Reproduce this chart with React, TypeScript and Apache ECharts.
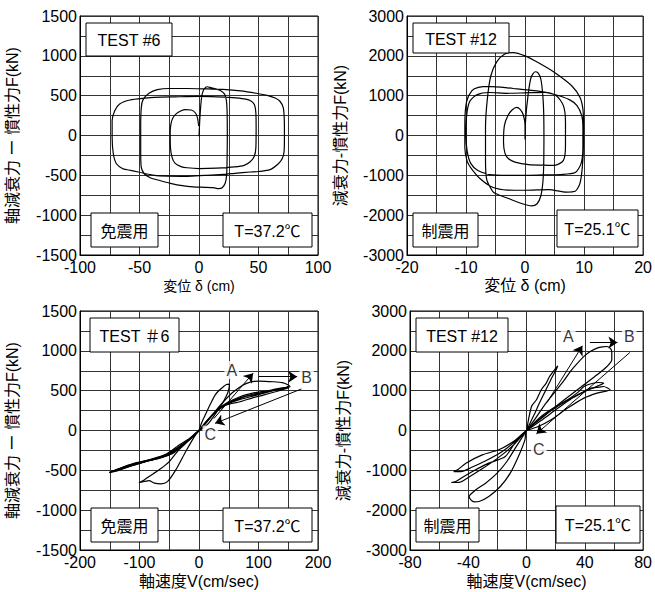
import React, { useEffect, useRef } from "react";
import * as echarts from "echarts";

const FONT = "Arial, 'Liberation Sans', 'Noto Sans CJK JP', sans-serif";

// ---------- Panel 1: TEST #6, displacement (cm) vs force (kN) ----------
const test6Disp: number[][] = [
  [0, -10], [0.5, 150], [1.2, 320], [2.2, 480], [3.5, 560], [5.5, 605], [7, 612], [10, 600], [14, 585], [18, 565],
  [21.5, 520], [23, 440], [23.6, 300], [23.8, 0], [23.6, -300], [23.2, -500], [22, -600], [19.5, -655], [16.5, -667],
  [12, -655], [5, -650], [-5, -645], [-14, -630], [-24, -600], [-33, -565], [-41, -530], [-46, -480], [-48.5, -400],
  [-49, -200], [-49, 100], [-48.5, 350], [-47, 450], [-42, 530], [-35, 575], [-25, 590], [-10, 590], [5, 585], [20, 578],
  [35, 560], [48, 530], [58, 500], [64, 470], [68, 430], [70.8, 350], [71.7, 190], [71.8, 0], [71.5, -200], [70, -290],
  [66.7, -354], [59.7, -429], [50, -452], [43, -458], [30, -475], [21, -488], [5, -500], [-10, -512], [-25, -510],
  [-37.5, -500], [-51, -458], [-60, -430], [-64, -417], [-69.4, -354], [-72, -229], [-73, -20], [-73, 187], [-70.8, 312],
  [-66.7, 396], [-58, 446], [-45, 470], [-37.5, 479], [-20, 485], [0, 490], [15, 485], [28, 475], [38, 460], [43, 440],
  [46.5, 390], [47.8, 280], [48, 100], [47.8, -150], [46.5, -260], [43, -330], [38, -375], [30, -395], [15, -410],
  [0, -415], [-10, -405], [-15, -390], [-20, -350], [-22.5, -280], [-24, -150], [-24.2, 50], [-23.5, 150], [-22, 220],
  [-19, 275], [-15, 310], [-11.7, 325], [-6.5, 320], [-2.8, 279], [-1.1, 208], [-0.3, 120],
];

// ---------- Panel 2: TEST #12, displacement (cm) vs force (kN) ----------
const test12Disp: number[][] = [
  [0, -100], [0, 250], [-0.3, 520], [-0.8, 650], [-1.4, 705], [-2.2, 640], [-2.9, 500], [-3.5, 250], [-3.65, -170],
  [-3.4, -450], [-2.8, -583], [-1.7, -667], [0.6, -733], [3, -745], [5, -750], [6.5, -625], [6.85, -250], [6.85, 330],
  [6.5, 750], [5.3, 1000], [3.4, 1083], [0, 1070], [-3, 1060], [-6, 1080], [-8.2, 1020], [-9.4, 850], [-9.9, 500],
  [-10, 0], [-9.8, -400], [-9.2, -700], [-8, -880], [-6, -980], [-3, -1000], [0, -1000], [3, -990], [6, -980],
  [8.5, -930], [9.5, -700], [9.8, -300], [9.8, 200], [9.6, 500], [8.8, 750], [7.5, 900], [5, 1030], [2, 1120],
  [-2, 1180], [-6.2, 1233], [-7.9, 1208], [-9, 1125], [-9.9, 850], [-10.2, 300], [-10.2, -300], [-9.8, -650],
  [-9, -850], [-7.5, -1100], [-5.5, -1300], [-3, -1370], [0, -1375], [4, -1360], [7, -1420], [8.5, -1400],
  [9.3, -1200], [9.7, -800], [9.9, -200], [9.9, 300], [9.8, 667], [9.3, 958], [7.9, 1250], [5, 1583], [2.2, 1833],
  [0, 2000], [-2, 2083], [-3.5, 2040], [-4.8, 1850], [-5.8, 1500], [-6.4, 900], [-6.7, 200], [-6.7, -600],
  [-6.5, -1100], [-5.5, -1400], [-5, -1458], [-2.8, -1583], [-0.6, -1708], [1.1, -1767], [2, -1720], [2.7, -1500],
  [3.1, -1000], [3.2, 0], [3.1, 800], [2.7, 1400], [2.2, 1570], [1.7, 1600], [1, 1450], [0.5, 1000], [0.1, 400], [0, -100],
];

// ---------- Panel 3: TEST #6, velocity (cm/sec) vs force (kN) ----------
const test6VelLoopA: number[][] = [
  [0, 0], [2, 48], [7, 140], [13, 236], [20, 345], [27, 445], [34, 505], [41, 550], [46, 578], [50, 582], [51, 565],
  [49, 487], [45, 420], [41, 361], [30, 236], [16, 90], [5, 20], [0, 0], [-8, -80], [-22, -260], [-39, -494],
  [-53, -641], [-64, -670], [-75, -660], [-84, -630], [-92, -640], [-101, -655], [-92, -620], [-84, -578], [-67, -494],
  [-50, -390], [-34, -243], [-20, -140], [-8, -50], [0, 0],
];
const test6VelLoopB: number[][] = [
  [0, 0], [10, 80], [25, 220], [41, 361], [58, 487], [80, 592], [102, 621], [125, 612], [140, 600], [150, 571],
  [153, 548], [135, 528], [112, 495], [97, 479], [80, 450], [69, 424], [50, 360], [35, 285], [20, 170], [8, 60], [0, 0],
  [-8, -50], [-20, -120], [-34, -185], [-48, -264], [-62, -327], [-84, -369], [-112, -419], [-135, -480], [-151, -528],
  [-135, -500], [-112, -438], [-84, -378], [-62, -338], [-45, -290], [-30, -210], [-15, -110], [0, 0],
];
const test6VelBundle1: number[][] = [
  [0, 0], [12, 100], [28, 230], [45, 320], [69, 361], [90, 410], [108, 445], [130, 490], [150, 535], [135, 520],
  [110, 480], [90, 455], [69, 410], [50, 350], [30, 250], [12, 110], [0, 0], [-12, -90], [-30, -190], [-50, -290],
  [-75, -355], [-110, -425], [-148, -520], [-120, -455], [-90, -390], [-65, -345], [-45, -280], [-25, -170], [-10, -70], [0, 0],
];
const test6VelBundle2: number[][] = [
  [0, 0], [15, 140], [30, 245], [50, 340], [69, 390], [95, 440], [120, 490], [145, 540], [150, 548], [130, 515],
  [105, 470], [80, 430], [60, 380], [40, 300], [20, 180], [5, 40], [0, 0], [-15, -100], [-35, -210], [-55, -300],
  [-85, -370], [-120, -440], [-150, -525], [-125, -470], [-95, -400], [-70, -350], [-50, -300], [-30, -200], [-12, -80], [0, 0],
];
const arrows6: number[][][] = [
  [[25, 150], [91, 720]],
  [[100, 675], [165, 675]],
  [[172, 521], [27, 90]],
];
const labels6 = [
  { name: "A", value: [55, 759] },
  { name: "B", value: [181, 663] },
  { name: "C", value: [19, -52] },
];

// ---------- Panel 4: TEST #12, velocity (cm/sec) vs force (kN) ----------
const test12VelBig: number[][] = [
  [0, 0], [6, 300], [12, 620], [18, 900], [26, 1273], [30, 1480], [35, 1692], [40, 1880], [44, 1990], [48.4, 2068],
  [52, 2100], [55.2, 2109], [57.5, 2060], [58.5, 1976], [58.5, 1775], [55.2, 1607], [48.4, 1398], [39.4, 1147],
  [30.4, 896], [20, 600], [10, 300], [0, 0], [-1.1, -234], [-5.6, -653], [-11.2, -1071], [-18, -1406], [-25.9, -1657],
  [-32.6, -1782], [-36, -1790], [-38.2, -1740], [-39.4, -1657], [-34.8, -1489], [-28.1, -1322], [-20.2, -1071],
  [-13.5, -778], [-7, -400], [0, 0],
];
const test12VelA: number[][] = [
  [0, 0], [3.4, 603], [6.8, 771], [10.1, 1022], [13.5, 1190], [15.8, 1356], [19.2, 1524], [21.4, 1624], [20.5, 1540],
  [17, 1300], [13, 1000], [9, 700], [5, 380], [0, 0],
];
const test12VelR1: number[][] = [
  [0, 0], [10, 350], [20, 600], [28.2, 771], [35, 950], [39.4, 1105], [45, 1180], [49.5, 1205], [52.9, 1189],
  [49, 1120], [44, 1040], [38, 940], [30, 780], [20, 520], [10, 250], [0, 0],
];
const test12VelR2: number[][] = [
  [0, 0], [12, 380], [22, 620], [32.7, 854], [40, 990], [43.9, 1064], [50, 1090], [52.9, 1105], [57.4, 1022],
  [48.4, 938], [39.4, 813], [28.2, 562], [16.9, 268], [8, 100], [0, 0],
];
const test12VelL1: number[][] = [
  [0, 0], [-6, -200], [-14.6, -653], [-25.9, -820], [-37.1, -1029], [-45, -1200], [-49, -1290], [-51.7, -1305],
  [-46, -1300], [-40, -1180], [-30, -950], [-20, -700], [-10, -400], [0, 0],
];
const test12VelL2: number[][] = [
  [0, 0], [-8, -250], [-19.1, -485], [-30.4, -611], [-41.6, -820], [-47, -980], [-50, -1030], [-45, -1030],
  [-38, -930], [-28, -760], [-18, -560], [-8, -280], [0, 0],
];
const arrows12: number[][][] = [
  [[14, 700], [38.3, 2126]],
  [[43.5, 2210], [62.4, 2210]],
  [[70.9, 1958], [6.8, -83]],
];
const labels12 = [
  { name: "A", value: [28.6, 2370] },
  { name: "B", value: [70.5, 2370] },
  { name: "C", value: [8.4, -467] },
];

// ---------- Axis settings ----------
const xRanges = [
  { min: -100, max: 100, interval: 25, step: 50 },
  { min: -20, max: 20, interval: 5, step: 10 },
  { min: -200, max: 200, interval: 50, step: 100 },
  { min: -80, max: 80, interval: 20, step: 40 },
];
const yRanges = [
  { min: -1500, max: 1500, interval: 250, step: 500 },
  { min: -3000, max: 3000, interval: 500, step: 1000 },
  { min: -1500, max: 1500, interval: 250, step: 500 },
  { min: -3000, max: 3000, interval: 500, step: 1000 },
];
const xNames = ["変位 δ (cm)", "変位 δ (cm)", "軸速度V(cm/sec)", "軸速度V(cm/sec)"];
const yNames = ["軸減衰力 ー 慣性力F(kN)", "減衰力-慣性力F(kN)", "軸減衰力 ー 慣性力F(kN)", "減衰力-慣性力F(kN)"];
const boxTexts = [
  ["TEST #6", "免震用", "T=37.2℃"],
  ["TEST #12", "制震用", "T=25.1℃"],
  ["TEST ＃6", "免震用", "T=37.2℃"],
  ["TEST #12", "制震用", "T=25.1℃"],
];

export default function App() {
  const ref = useRef<HTMLDivElement>(null);
  useEffect(() => {
    document.body.style.margin = "0";
    if (!ref.current) return;
    const chart = echarts.init(ref.current, undefined, { renderer: "svg" });

    const grids = [
      { left: 80, top: 16, width: 238, height: 239 },
      { left: 407, top: 16, width: 239, height: 239 },
      { left: 80, top: 311, width: 238, height: 239 },
      { left: 410, top: 311, width: 237, height: 239 },
    ];
    const xNameSize = [14, 16, 16, 16];
    const xNameGap = [24, 22, 23, 23];

    const xAxis = xRanges.map((r, i) => ({
      type: "value",
      gridIndex: i,
      min: r.min,
      max: r.max,
      interval: r.interval,
      name: xNames[i],
      nameLocation: "middle",
      nameGap: xNameGap[i],
      nameTextStyle: { fontSize: xNameSize[i], fontFamily: FONT, color: "#000" },
      axisLine: { show: true, onZero: false, lineStyle: { color: "#000", width: 1 } },
      axisTick: { show: false },
      axisLabel: {
        fontSize: 16,
        fontFamily: FONT,
        color: "#000",
        margin: 4,
        formatter: (v: number) => (v % r.step === 0 ? String(v) : ""),
      },
      splitLine: { show: true, lineStyle: { color: "#333", width: 1 } },
    }));
    const yAxis = yRanges.map((r, i) => ({
      type: "value",
      gridIndex: i,
      min: r.min,
      max: r.max,
      interval: r.interval,
      name: yNames[i],
      nameLocation: "middle",
      nameGap: i % 2 === 0 ? 60 : 59,
      nameTextStyle: { fontSize: 16, fontFamily: FONT, color: "#000" },
      axisLine: { show: true, onZero: false, lineStyle: { color: "#000", width: 1 } },
      axisTick: { show: false },
      axisLabel: {
        fontSize: 16,
        fontFamily: FONT,
        color: "#000",
        margin: 3,
        formatter: (v: number) => (v % r.step === 0 ? String(v) : ""),
      },
      splitLine: { show: true, lineStyle: { color: "#333", width: 1 } },
    }));

    const curve = (data: number[][], idx: number) => ({
      type: "line",
      xAxisIndex: idx,
      yAxisIndex: idx,
      data,
      showSymbol: false,
      smooth: 0.25,
      lineStyle: { color: "#000", width: 1.2 },
      z: 3,
    });
    const arrowSeries = (arr: number[][][], idx: number) => ({
      type: "lines",
      coordinateSystem: "cartesian2d",
      xAxisIndex: idx,
      yAxisIndex: idx,
      symbol: ["none", "arrow"],
      symbolSize: 9,
      lineStyle: { color: "#000", width: 1, opacity: 1 },
      data: arr.map((c) => ({ coords: c })),
      z: 4,
    });
    const labelSeries = (lbls: { name: string; value: number[] }[], idx: number) => ({
      type: "scatter",
      xAxisIndex: idx,
      yAxisIndex: idx,
      symbolSize: 1,
      itemStyle: { color: "rgba(0,0,0,0)" },
      data: lbls,
      label: {
        show: true,
        position: "inside",
        formatter: "{b}",
        fontSize: 16,
        fontFamily: FONT,
        color: "#000",
        backgroundColor: "#fff",
        padding: [1, 2],
      },
      z: 5,
    });

    const series: any[] = [
      curve(test6Disp, 0),
      curve(test12Disp, 1),
      curve(test6VelLoopA, 2),
      curve(test6VelLoopB, 2),
      curve(test6VelBundle1, 2),
      curve(test6VelBundle2, 2),
      arrowSeries(arrows6, 2),
      labelSeries(labels6, 2),
      curve(test12VelBig, 3),
      curve(test12VelA, 3),
      curve(test12VelR1, 3),
      curve(test12VelR2, 3),
      curve(test12VelL1, 3),
      curve(test12VelL2, 3),
      arrowSeries(arrows12, 3),
      labelSeries(labels12, 3),
    ];

    const boxRects = [
      [[86, 23, 86, 33], [91, 213, 67, 34], [223, 213, 89, 34]],
      [[413, 23, 96, 30], [413, 213, 65, 34], [557, 210, 81, 37]],
      [[90, 318, 89, 34], [91, 508, 67, 34], [223, 508, 89, 34]],
      [[416, 318, 92, 34], [416, 508, 63, 34], [556, 506, 84, 37]],
    ];
    const graphic: any[] = [];
    boxRects.forEach((panel, pi) =>
      panel.forEach((b, bi) => {
        graphic.push({
          type: "group",
          z: 100,
          children: [
            {
              type: "rect",
              shape: { x: b[0], y: b[1], width: b[2], height: b[3] },
              style: { fill: "#fff", stroke: "#000", lineWidth: 1 },
              z: 100,
            },
            {
              type: "text",
              z: 101,
              style: {
                text: boxTexts[pi][bi],
                x: b[0] + b[2] / 2,
                y: b[1] + b[3] / 2 + 1,
                align: "center",
                verticalAlign: "middle",
                fontSize: 16,
                fontFamily: FONT,
                fill: "#000",
              },
            },
          ],
        });
      })
    );

    chart.setOption({
      animation: false,
      backgroundColor: "#fff",
      grid: grids.map((g) => ({ ...g, show: true, borderColor: "#000", borderWidth: 1, backgroundColor: "transparent" })),
      xAxis,
      yAxis,
      series,
      graphic,
    });
    return () => chart.dispose();
  }, []);
  return <div ref={ref} style={{ width: 655, height: 592 }} />;
}
